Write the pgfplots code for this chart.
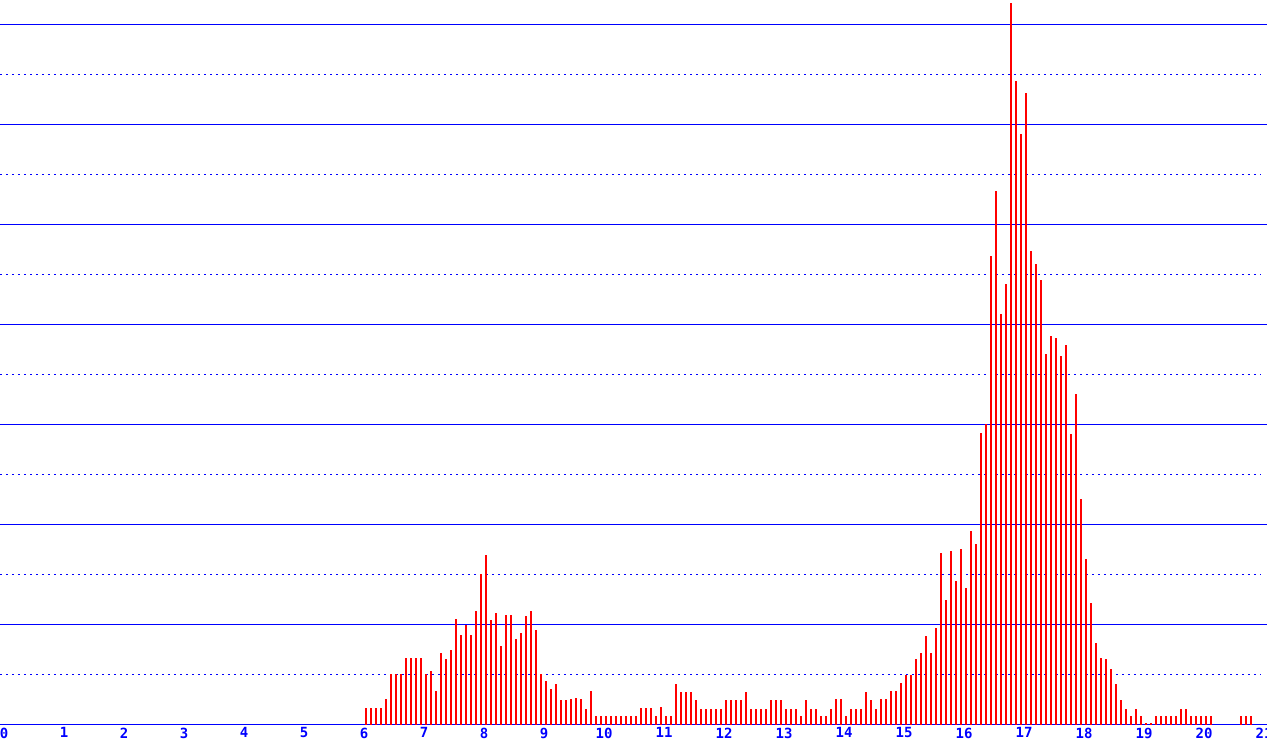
\documentclass[border=0pt]{standalone}
\usepackage{fontspec}
\usepackage{pgfplots}
\usepackage{pgfplotstable}
\pgfplotsset{compat=1.18}
\newfontfamily\tickfont{DejaVu Sans Mono}
\definecolor{gridblue}{RGB}{0,0,255}
\definecolor{barred}{RGB}{255,0,0}

% hour of day (bin position), value
\pgfplotstableread{
h n
6.0333 2
6.1167 2
6.2 2
6.2833 2
6.3667 3
6.45 6
6.5333 6
6.6167 6
6.7 8
6.7833 8
6.8667 8
6.95 8
7.0333 6
7.1167 6.4
7.2 4
7.2833 8.6
7.3667 7.8
7.45 8.9
7.5333 12.6
7.6167 10.7
7.7 11.9
7.7833 10.7
7.8667 13.6
7.95 18
8.0333 20.3
8.1167 12.5
8.2 13.4
8.2833 9.4
8.3667 13.1
8.45 13.1
8.5333 10.3
8.6167 11
8.7 13
8.7833 13.6
8.8667 11.3
8.95 6
9.0333 5.2
9.1167 4.2
9.2 4.9
9.2833 2.9
9.3667 2.9
9.45 3
9.5333 3.2
9.6167 3
9.7 1.9
9.7833 4
9.8667 1
9.95 1
10.0333 1
10.1167 1
10.2 1
10.2833 1
10.3667 1
10.45 1
10.5333 1
10.6167 2
10.7 2
10.7833 2
10.8667 1
10.95 2.1
11.0333 1
11.1167 1
11.2 4.9
11.2833 3.9
11.3667 3.9
11.45 3.9
11.5333 2.9
11.6167 1.9
11.7 1.9
11.7833 1.9
11.8667 1.9
11.95 1.9
12.0333 2.9
12.1167 2.9
12.2 2.9
12.2833 2.9
12.3667 3.9
12.45 1.9
12.5333 1.9
12.6167 1.9
12.7 1.9
12.7833 2.9
12.8667 2.9
12.95 2.9
13.0333 1.9
13.1167 1.9
13.2 1.9
13.2833 1
13.3667 2.9
13.45 1.9
13.5333 1.9
13.6167 1
13.7 1
13.7833 1.9
13.8667 3
13.95 3
14.0333 1
14.1167 1.9
14.2 1.9
14.2833 1.9
14.3667 3.9
14.45 2.9
14.5333 1.9
14.6167 3
14.7 3
14.7833 4
14.8667 4
14.95 5
15.0333 5.9
15.1167 5.9
15.2 7.8
15.2833 8.6
15.3667 10.6
15.45 8.6
15.5333 11.6
15.6167 20.6
15.7 14.9
15.7833 20.8
15.8667 17.2
15.95 21.1
16.0333 16.4
16.1167 23.2
16.2 21.7
16.2833 35
16.3667 36
16.45 56.2
16.5333 64
16.6167 49.2
16.7 52.9
16.7833 86.6
16.8667 77.2
16.95 70.9
17.0333 75.8
17.1167 56.8
17.2 55.3
17.2833 53.3
17.3667 44.5
17.45 46.6
17.5333 46.4
17.6167 44.2
17.7 45.5
17.7833 34.9
17.8667 39.6
17.95 27.1
18.0333 19.9
18.1167 14.6
18.2 9.8
18.2833 8
18.3667 7.9
18.45 6.7
18.5333 4.8
18.6167 2.9
18.7 1.9
18.7833 1
18.8667 1.9
18.95 1
19.0333 0.15
19.1167 0.15
19.2 1
19.2833 1
19.3667 1
19.45 1
19.5333 1
19.6167 1.9
19.7 1.9
19.7833 1
19.8667 1
19.95 1
20.0333 1
20.1167 1
20.6167 1
20.7 1
20.7833 1
}\bins

\begin{document}
\begin{tikzpicture}
\begin{axis}[
  scale only axis,
  width=1267bp, height=724bp,
  xmin=-0.0667, xmax=21.05,
  ymin=0, ymax=86.88,
  axis line style={draw=none},
  xtick={0,...,21},
  xticklabels={0,1,2,3,4,5,6,7,8,9,10,11,12,13,14,15,16,17,18,19,20,21},
  /pgf/number format/assume math mode=true,
  x tick label style={font=\tickfont\bfseries\fontsize{14bp}{15bp}\selectfont,
    text=gridblue, inner sep=0pt, yshift=-3bp},
  major tick length=0pt,
  ytick=\empty,
  clip=false,
]
  % horizontal rules: solid every 12, dashed in between
  \pgfplotsinvokeforeach{0,12,24,36,48,60,72,84}{
    \draw[draw=gridblue, line width=1.1bp] (axis cs:-0.0667,#1) -- (axis cs:21.05,#1);
  }
  \pgfplotsinvokeforeach{6,18,30,42,54,66,78}{
    \draw[draw=gridblue, line width=1.1bp, dash pattern=on 2bp off 4bp]
      (axis cs:-0.0667,#1) -- (axis cs:20.95,#1);
  }
  \addplot[ycomb, draw=barred, line width=2.2bp] table[x=h, y=n] {\bins};
  \coordinate (ll) at (rel axis cs:0,0);
  \coordinate (ur) at (rel axis cs:1,1);
\end{axis}
\pgfresetboundingbox
\path[use as bounding box] ([yshift=-19.5bp]ll) rectangle ([yshift=0.5bp]ur);
\end{tikzpicture}
\end{document}
